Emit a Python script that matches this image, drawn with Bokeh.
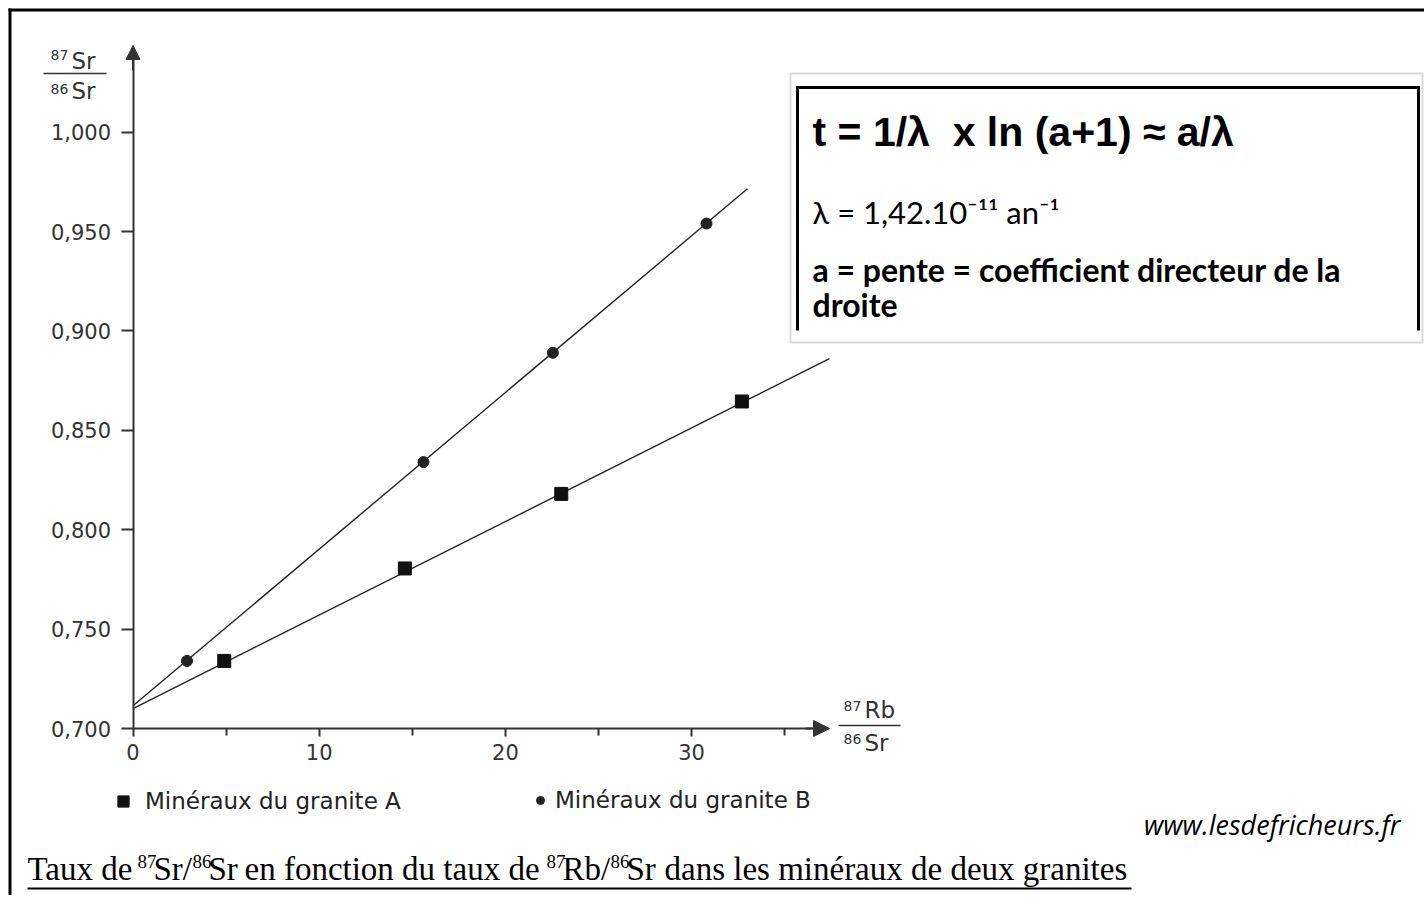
from bokeh.plotting import figure
from bokeh.models import (Range1d, FixedTicker, Arrow, NormalHead, Label,
                          BoxAnnotation, Legend, LegendItem)
from bokeh.embed import file_html
from bokeh.resources import INLINE

# ---------------- data ----------------
granite_A_x = [4.9, 14.6, 23.0, 32.7]
granite_A_y = [0.734, 0.7805, 0.818, 0.8645]
granite_B_x = [2.9, 15.6, 22.55, 30.8]
granite_B_y = [0.734, 0.834, 0.889, 0.954]
droite_A_x = [0.0, 37.4]
droite_A_y = [0.710, 0.886]
droite_B_x = [0.0, 33.0]
droite_B_y = [0.7114, 0.9715]
x_ticks = [0, 10, 20, 30]
x_minor_ticks = [5, 15, 25, 35]
y_ticks = [0.70, 0.75, 0.80, 0.85, 0.90, 0.95, 1.00]
y_tick_labels = ["0,700", "0,750", "0,800", "0,850", "0,900", "0,950", "1,000"]
legend_labels = ["Minéraux du granite A", "Minéraux du granite B"]
formula_lines = ["t = 1/λ\u00a0 x ln (a+1) ≈ a/λ",
                 "λ = 1,42.10⁻¹¹ an⁻¹",
                 "a = pente = coefficient directeur de la",
                 "droite"]
source = "www.lesdefricheurs.fr"
# caption pieces: (text, is_superscript)
caption_parts = [("Taux de", False), ("87", True), ("Sr/", False), ("86", True),
                 ("Sr", False), ("en fonction du taux de", False), ("87", True),
                 ("Rb/", False), ("86", True), ("Sr", False),
                 ("dans les minéraux de deux granites", False)]
caption_x = [27, 137, 153, 192, 208, 244, 546, 562, 610, 626, 664]

# ---------------- layout ----------------
W, H = 1424, 895
PXX, PXY = 18.62, 1988.0    # px per data unit
X0, Y0 = 132.5, 728.0       # canvas position of data origin (0, 0.700)


def dx(xp):
    return (xp - X0) / PXX


def dy(yp):
    return 0.7 + (Y0 - yp) / PXY


p = figure(width=W, height=H, output_backend="svg", toolbar_location=None,
           x_range=Range1d(dx(0), dx(W)), y_range=Range1d(dy(H), dy(0)),
           min_border_left=0, min_border_right=0, min_border_top=0,
           min_border_bottom=0)
p.outline_line_color = None
p.grid.visible = False
p.background_fill_color = "white"
p.border_fill_color = "white"

AX = "#333333"
TICKFONT = "DejaVu Sans"

xa = p.xaxis[0]
xa.fixed_location = 0.7
xa.ticker = FixedTicker(ticks=x_ticks, minor_ticks=x_minor_ticks)
xa.bounds = (0, dx(812))
xa.axis_line_color = AX
xa.axis_line_width = 2
xa.major_tick_line_color = AX
xa.major_tick_line_width = 2
xa.minor_tick_line_color = AX
xa.minor_tick_line_width = 2
xa.major_tick_in = 0
xa.major_tick_out = 8
xa.minor_tick_in = 0
xa.minor_tick_out = 7
xa.major_label_standoff = 7
xa.major_label_text_font = TICKFONT
xa.major_label_text_font_size = "21px"
xa.major_label_text_color = AX

ya = p.yaxis[0]
ya.fixed_location = 0
ya.ticker = FixedTicker(ticks=y_ticks, minor_ticks=[])
ya.bounds = (0.7, dy(58))
ya.axis_line_color = AX
ya.axis_line_width = 2
ya.major_tick_line_color = AX
ya.major_tick_line_width = 2
ya.major_tick_in = 0
ya.major_tick_out = 12
ya.major_label_standoff = 10
ya.major_label_text_font = TICKFONT
ya.major_label_text_font_size = "21px"
ya.major_label_text_color = AX
ya.major_label_overrides = {t: lab for t, lab in zip(y_ticks, y_tick_labels)}

# axis arrow heads
p.add_layout(Arrow(end=NormalHead(size=16, fill_color=AX, line_color=AX),
                   x_start=dx(805), y_start=0.7, x_end=dx(829), y_end=0.7,
                   line_color=AX, line_width=2))
p.add_layout(Arrow(end=NormalHead(size=14, fill_color=AX, line_color=AX),
                   x_start=0, y_start=dy(70), x_end=0, y_end=dy(45),
                   line_color=AX, line_width=2))

# straight lines through the points
p.line(droite_A_x, droite_A_y, line_color="#222222", line_width=1.4)
p.line(droite_B_x, droite_B_y, line_color="#222222", line_width=1.4)

rA = p.scatter(granite_A_x, granite_A_y, marker="square", size=13,
               color="#111111")
rB = p.scatter(granite_B_x, granite_B_y, marker="circle", size=11,
               color="#222222")

# legends (below the axis)
legA = Legend(items=[LegendItem(label=legend_labels[0], renderers=[rA])],
              location=(109, H - 778 - 37), glyph_width=28, glyph_height=28,
              label_standoff=8, padding=10, margin=0, border_line_color=None,
              background_fill_alpha=0, label_text_font=TICKFONT,
              label_text_font_size="23px", label_text_color="#222222")
legB = Legend(items=[LegendItem(label=legend_labels[1], renderers=[rB])],
              location=(530, H - 780 - 33), glyph_width=20, glyph_height=20,
              label_standoff=5, padding=10, margin=0, border_line_color=None,
              background_fill_alpha=0, label_text_font=TICKFONT,
              label_text_font_size="23px", label_text_color="#222222")
p.add_layout(legA)
p.add_layout(legB)


def seg(x0, y0, x1, y1, color="black", width=2.0):
    p.add_layout(Arrow(end=None, start=None, x_start=dx(x0), y_start=dy(y0),
                       x_end=dx(x1), y_end=dy(y1), line_color=color,
                       line_width=width))


def lab(xp, yp, text, font, size, style="normal", align="left", color="black"):
    # yp is the wanted baseline; Bokeh's alphabetic baseline sits ~0.42em lower
    p.add_layout(Label(x=dx(xp), y=dy(yp - 0.42 * size), text=text,
                       text_font=font, text_font_size=f"{size}px",
                       text_font_style=style, text_align=align,
                       text_baseline="alphabetic", text_color=color))


# axis titles as fractions
lab(50, 60, "87", TICKFONT, 14, color=AX)
lab(71, 70, "Sr", TICKFONT, 23, color=AX)
seg(43, 73, 106, 73, AX, 1.5)
lab(50, 94, "86", TICKFONT, 14, color=AX)
lab(71, 100, "Sr", TICKFONT, 23, color=AX)

lab(843, 711, "87", TICKFONT, 14, color=AX)
lab(864, 719, "Rb", TICKFONT, 23, color=AX)
seg(838, 725, 900, 725, AX, 1.5)
lab(843, 744, "86", TICKFONT, 14, color=AX)
lab(864, 752, "Sr", TICKFONT, 23, color=AX)

# formula box
p.add_layout(BoxAnnotation(left=dx(790), right=dx(1422), top=dy(73),
                           bottom=dy(342), fill_alpha=0, line_color="#888888",
                           line_width=2))
seg(797, 87, 1418, 87, "black", 3)
seg(797, 85.5, 797, 330, "black", 3)
seg(1418, 85.5, 1418, 330, "black", 3)
lab(812, 149, formula_lines[0], "Liberation Sans", 41, style="bold")
lab(812, 225, formula_lines[1], "Lato", 31)
lab(812, 282, formula_lines[2], "Lato", 32, style="bold")
lab(812, 317, formula_lines[3], "Lato", 32, style="bold")

# source + caption
lab(1400, 835, source, "Open Sans", 27, style="italic", align="right")
for (txt, sup), xp in zip(caption_parts, caption_x):
    if sup:
        lab(xp, 869, txt, "Liberation Serif", 19)
    else:
        lab(xp, 882, txt, "Liberation Serif", 33)
seg(27, 888, 1131, 888, "black", 1.8)

# page frame (left and top edges)
seg(9.5, 8, 9.5, H, "black", 3)
seg(8, 9.5, W, 9.5, "black", 3)

open("out.html", "w").write(file_html(p, INLINE))
